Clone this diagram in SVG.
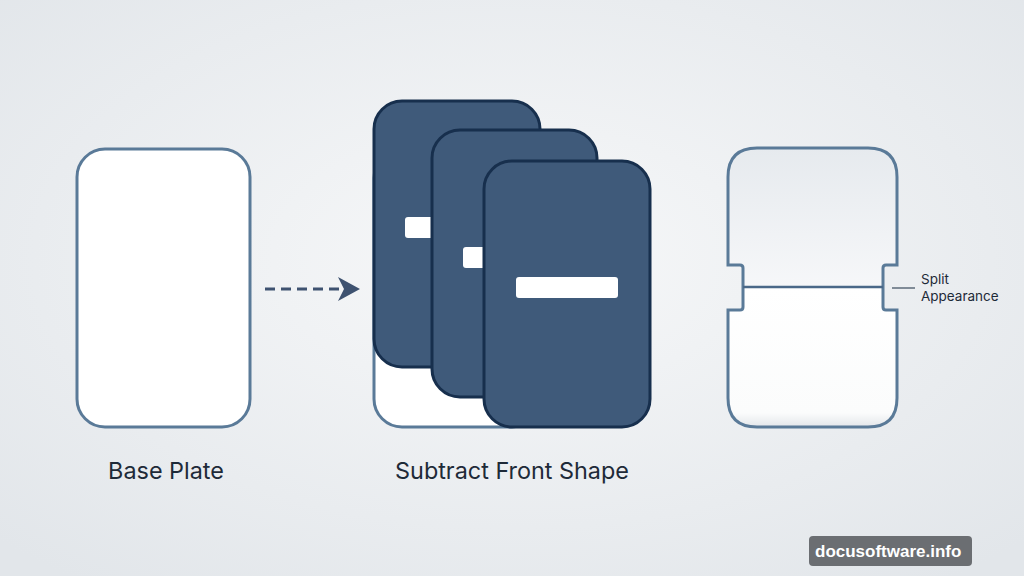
<svg xmlns="http://www.w3.org/2000/svg" width="1024" height="576" viewBox="0 0 1024 576">
<defs>
<radialGradient id="bg" cx="50%" cy="45%" r="70%">
<stop offset="0" stop-color="#f7f8f9"/>
<stop offset="1" stop-color="#e2e6ea"/>
</radialGradient>
<linearGradient id="topHalf" x1="0" y1="0" x2="0" y2="1">
<stop offset="0" stop-color="#e6eaee"/>
<stop offset="1" stop-color="#f6f7f9"/>
</linearGradient>
<linearGradient id="botHalf" x1="0" y1="0" x2="0" y2="1">
<stop offset="0" stop-color="#ffffff"/>
<stop offset="0.9" stop-color="#fbfcfc"/>
<stop offset="1" stop-color="#e3e6ea"/>
</linearGradient>
<marker id="arr" viewBox="0 0 22 24" refX="20" refY="12" markerWidth="22" markerHeight="24" markerUnits="userSpaceOnUse" orient="auto">
<path d="M0,0 L22,12 L0,24 L6,12 Z" fill="#3e5270"/>
</marker>
<style>
.plate{fill:#ffffff;stroke:#5a7a98;stroke-width:3}
.card{fill:#3f5a7a;stroke:#172f4d;stroke-width:3}
.slot{fill:#ffffff}
.lbl{font-family:Inter,"Liberation Sans",Arial,sans-serif;fill:#1e2a38}
</style>
</defs>
<rect width="1024" height="576" fill="url(#bg)"/>

<g id="base-plate">
<rect class="plate" x="77" y="149" width="173" height="278" rx="28"/>
<text class="lbl" x="166" y="479" font-size="23.4" text-anchor="middle">Base Plate</text>
</g>

<g id="connectors">
<line x1="265" y1="289" x2="358" y2="289" stroke="#3e5270" stroke-width="3" stroke-dasharray="10,6" marker-end="url(#arr)"/>
</g>

<g id="subtract-front-shape">
<rect class="plate" x="374" y="150" width="166" height="277" rx="28"/>
<rect class="card" x="374" y="101" width="166" height="266" rx="28"/>
<rect class="slot" x="405" y="217" width="30" height="21" rx="3"/>
<rect class="card" x="432" y="130" width="165" height="267" rx="28"/>
<rect class="slot" x="463" y="247" width="24" height="21" rx="3"/>
<rect class="card" x="484" y="161" width="166" height="266" rx="28"/>
<rect class="slot" x="516" y="277" width="102" height="21" rx="3"/>
<text class="lbl" x="512" y="479" font-size="23.4" text-anchor="middle">Subtract Front Shape</text>
</g>

<g id="split-appearance">
<path d="M757,148 H868 Q897,148 897,177 V265 H886 Q883,265 883,268 V287 H743 V268 Q743,265 740,265 H728 V177 Q728,148 757,148 Z" fill="url(#topHalf)"/>
<path d="M743,287 H883 V307 Q883,310 886,310 H897 V398 Q897,427 868,427 H757 Q728,427 728,398 V310 H740 Q743,310 743,307 Z" fill="url(#botHalf)"/>
<path d="M757,148 H868 Q897,148 897,177 V265 H886 Q883,265 883,268 V307 Q883,310 886,310 H897 V398 Q897,427 868,427 H757 Q728,427 728,398 V310 H740 Q743,310 743,307 V268 Q743,265 740,265 H728 V177 Q728,148 757,148 Z" fill="none" stroke="#5a7a98" stroke-width="3"/>
<line x1="743" y1="287" x2="883" y2="287" stroke="#4a6888" stroke-width="2.5"/>
<line x1="892" y1="288" x2="915" y2="288" stroke="#3a4a5c" stroke-width="1.2"/>
<text class="lbl" x="921" y="284" font-size="13.5">Split</text>
<text class="lbl" x="921" y="301" font-size="13.5">Appearance</text>
</g>

<g id="watermark">
<rect x="809" y="536" width="163" height="30" rx="4" fill="#6b6e72"/>
<text x="815" y="557" font-family="Liberation Sans,Arial,sans-serif" font-weight="bold" font-size="17" fill="#ffffff">docusoftware.info</text>
</g>
</svg>
